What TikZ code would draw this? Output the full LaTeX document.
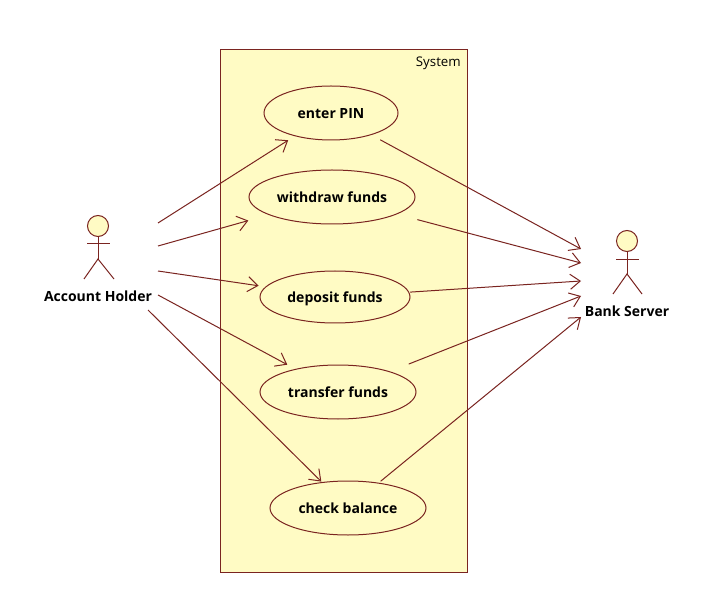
\documentclass[tikz,border=0pt]{standalone}
\usepackage{fontspec}
\setmainfont{Open Sans}
\usetikzlibrary{arrows.meta,shapes.geometric}
\definecolor{ln}{HTML}{7A2420}
\definecolor{fillc}{HTML}{FFFBC4}
\tikzset{
  uc/.style={draw=ln,fill=fillc,ellipse,line width=1pt,inner sep=0pt,text height=14pt,text depth=3pt,font=\fontsize{14}{16}\bfseries\selectfont,text=black},
  actorlabel/.style={font=\fontsize{14}{16}\bfseries\selectfont,text=black,inner sep=0pt},
  actorhead/.style={draw=ln,fill=fillc,circle,line width=1pt,minimum size=21pt,inner sep=0pt},
  limb/.style={draw=ln,line width=1pt},
  assoc/.style={draw=ln,line width=1pt,-{Straight Barb[length=10pt,width=15pt,line width=1pt]}},
}
\begin{document}
\begin{tikzpicture}[x=1pt,y=-1pt]
\useasboundingbox (0,0) rectangle (709,593);
\fill[white] (0,0) rectangle (709,593);
\draw[draw=ln,fill=fillc,line width=1pt] (220,50) rectangle (467,572);
\node[font=\fontsize{13.3}{15}\selectfont,inner sep=0pt,anchor=east,text=black] (system) at (461,63) {System};

\node[uc,minimum width=134pt,minimum height=54pt] (enterpin) at (331,113) {enter PIN};
\node[uc,minimum width=166pt,minimum height=54pt] (withdraw) at (332,197) {withdraw funds};
\node[uc,minimum width=150pt,minimum height=52pt] (deposit) at (335,297) {deposit funds};
\node[uc,minimum width=156pt,minimum height=54pt] (transfer) at (338,392) {transfer funds};
\node[uc,minimum width=156pt,minimum height=54pt] (check) at (348,508) {check balance};

% Account Holder
\node[actorhead] (holder) at (98,226) {};
\coordinate (hhip) at (98,259);
\coordinate (harml) at (87,244);
\coordinate (harmr) at (110,244);
\coordinate (hlegl) at (84,279);
\coordinate (hlegr) at (114,279);
\draw[limb] (holder) -- (hhip);
\draw[limb] (harml) -- (harmr);
\draw[limb] (hlegl) -- (hhip) -- (hlegr);
\node[actorlabel] (holderlabel) at (98,296) {Account Holder};

% Bank Server
\node[actorhead] (bank) at (627,241) {};
\coordinate (bhip) at (627,274);
\coordinate (barml) at (616,260);
\coordinate (barmr) at (639,260);
\coordinate (blegl) at (613,294);
\coordinate (blegr) at (642,294);
\draw[limb] (bank) -- (bhip);
\draw[limb] (barml) -- (barmr);
\draw[limb] (blegl) -- (bhip) -- (blegr);
\node[actorlabel] (banklabel) at (627,311) {Bank Server};

% connector ends at the actors
\coordinate (a1) at (158,223);
\coordinate (a2) at (158,246);
\coordinate (a3) at (158,271);
\coordinate (a4) at (158,295);
\coordinate (a5) at (148,310);
\coordinate (b1) at (581,249);
\coordinate (b2) at (581,263);
\coordinate (b3) at (581,281);
\coordinate (b4) at (581,296);
\coordinate (b5) at (581,317);

\draw[assoc,shorten >=7.6pt] (a1) -- (enterpin);
\draw[assoc,shorten >=21pt] (a2) -- (withdraw);
\draw[assoc,shorten >=6.9pt] (a3) -- (deposit);
\draw[assoc,shorten >=9pt] (a4) -- (transfer);
\draw[assoc,shorten >=0.7pt] (a5) -- (check);

\draw[assoc,shorten <=10pt] (enterpin) -- (b1);
\draw[assoc,shorten <=21pt] (withdraw) -- (b2);
\draw[assoc,shorten <=1pt] (deposit) -- (b3);
\draw[assoc,shorten <=20pt] (transfer) -- (b4);
\draw[assoc,shorten <=2.3pt] (check) -- (b5);
\end{tikzpicture}
\end{document}
